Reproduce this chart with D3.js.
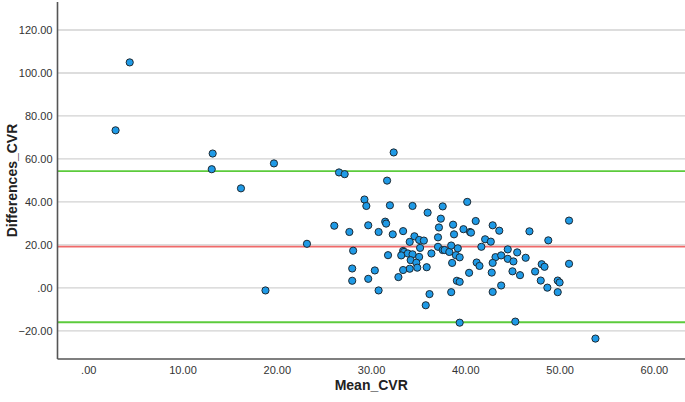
<!DOCTYPE html>
<html>
<head>
<meta charset="utf-8">
<script src="https://cdn.jsdelivr.net/npm/d3@7"></script>
<style>
  body { margin: 0; background: #fff; }
  svg { display: block; font-family: "Liberation Sans", Arial, sans-serif; }
</style>
</head>
<body>
<div id="chart"></div>
<script>
// Bland-Altman data: mean of the two CVR measures and their difference
const meanCVR = [
  2.9, 4.4, 13.2, 13.1, 16.2, 19.7, 26.6, 27.2, 32.4, 31.7,
  29.3, 29.5, 32.0, 34.4, 40.2, 37.6, 36.0, 26.1, 27.7, 23.2,
  28.1, 28.0, 28.0, 18.8, 29.7, 31.5, 31.6, 30.8, 32.3, 33.4,
  37.4, 37.2, 38.7, 41.1, 42.9, 43.6, 39.8, 40.5, 40.6, 38.8,
  37.1, 34.6, 34.1, 35.1, 35.6, 35.2, 42.1, 42.7, 33.4, 33.5,
  33.2, 33.9, 34.4, 31.8, 35.1, 34.2, 34.8, 34.1, 34.9, 33.4,
  32.9, 35.9, 36.4, 37.1, 37.6, 37.8, 38.3, 38.5, 39.2, 39.0,
  39.4, 38.6, 41.7, 41.2, 41.5, 40.4, 43.2, 43.8, 44.5, 44.5,
  45.1, 45.5, 42.9, 42.8, 45.0, 45.8, 43.8, 42.9, 39.1, 39.4,
  38.5, 36.2, 35.8, 30.8, 30.4, 29.7, 39.4, 45.3, 51.0, 46.8,
  48.8, 46.4, 47.4, 48.1, 48.4, 48.0, 48.7, 49.8, 50.0, 49.8,
  51.0, 53.8
];
const diffCVR = [
  73.3, 104.9, 62.5, 55.2, 46.3, 57.9, 53.7, 52.9, 63.0, 49.9,
  41.1, 38.1, 38.4, 38.1, 40.0, 37.9, 35.0, 28.9, 26.0, 20.5,
  17.3, 9.0, 3.3, -1.2, 29.1, 30.8, 29.9, 26.0, 24.9, 26.4,
  32.2, 28.1, 29.4, 31.1, 29.1, 26.6, 27.3, 26.0, 25.7, 24.9,
  23.5, 24.0, 21.4, 22.3, 22.0, 18.6, 22.6, 21.5, 17.2, 16.7,
  15.1, 16.0, 15.6, 15.2, 14.4, 12.9, 11.7, 8.9, 9.4, 8.3,
  5.0, 9.6, 16.0, 19.1, 17.6, 17.6, 16.7, 19.7, 18.4, 15.2,
  14.2, 11.6, 19.1, 11.8, 10.2, 7.0, 14.3, 15.1, 17.9, 13.5,
  12.3, 16.5, 11.6, 7.1, 7.7, 5.9, 1.1, -1.9, 3.3, 2.8,
  -2.0, -2.9, -8.1, -1.2, 8.1, 4.2, -16.2, -15.7, 31.3, 26.3,
  22.1, 14.0, 7.6, 11.0, 9.8, 3.4, 0.1, 3.4, 2.5, -2.0,
  11.2, -23.6
];
const meanDiff = 19.15;
const upperLoA = 54.3;
const lowerLoA = -16.0;
const xTicks = [0, 10, 20, 30, 40, 50, 60];
const yTicks = [-20, 0, 20, 40, 60, 80, 100, 120];

const W = 685, H = 402;
const plot = { left: 57.5, right: 685, top: 2, bottom: 359 };

const svg = d3.select('#chart').append('svg')
  .attr('width', W)
  .attr('height', H);

const x = d3.scaleLinear().domain([-3.26, 63.3]).range([plot.left, plot.right]);
const y = d3.scaleLinear().domain([-33.1, 133]).range([plot.bottom, plot.top]);

const fmt = (v) => d3.format('.2f')(v).replace(/^0\./, '.');

// gridlines
svg.append('g')
  .selectAll('line')
  .data(yTicks)
  .enter()
  .append('line')
  .attr('x1', plot.left).attr('x2', plot.right)
  .attr('y1', (d) => y(d)).attr('y2', (d) => y(d))
  .attr('stroke', '#d2d2d2')
  .attr('stroke-width', 1.4);

// reference lines
const refs = [
  { v: upperLoA, c: '#5ccb3c' },
  { v: lowerLoA, c: '#5ccb3c' },
  { v: meanDiff, c: '#f06a6a' }
];
svg.append('g')
  .selectAll('line')
  .data(refs)
  .enter()
  .append('line')
  .attr('x1', plot.left).attr('x2', plot.right)
  .attr('y1', (d) => y(d.v)).attr('y2', (d) => y(d.v))
  .attr('stroke', (d) => d.c)
  .attr('stroke-width', 1.8);

// axes
const yAxis = svg.append('g')
  .attr('transform', `translate(${plot.left},0)`)
  .call(d3.axisLeft(y).tickValues(yTicks).tickFormat(fmt).tickSize(0).tickPadding(5));
const xAxis = svg.append('g')
  .attr('transform', `translate(0,${plot.bottom})`)
  .call(d3.axisBottom(x).tickValues(xTicks).tickFormat(fmt).tickSize(0).tickPadding(7));

[xAxis, yAxis].forEach((a) => {
  a.select('.domain').attr('stroke', '#555').attr('stroke-width', 1.6);
  a.selectAll('text').attr('font-size', 11).attr('fill', '#333');
});
yAxis.select('.domain').attr('d', `M0,${plot.top}V${plot.bottom}`);
xAxis.select('.domain').attr('d', `M${plot.left},0H${plot.right}`);

// points
svg.append('g')
  .selectAll('circle')
  .data(meanCVR.map((m, i) => [m, diffCVR[i]]))
  .enter()
  .append('circle')
  .attr('cx', (d) => x(d[0]))
  .attr('cy', (d) => y(d[1]))
  .attr('r', 3.6)
  .attr('fill', '#1f9ae6')
  .attr('stroke', '#1e2a33')
  .attr('stroke-width', 1);

// axis titles
svg.append('text')
  .attr('x', (plot.left + plot.right) / 2)
  .attr('y', 390)
  .attr('text-anchor', 'middle')
  .attr('font-size', 14)
  .attr('font-weight', 'bold')
  .attr('fill', '#222')
  .text('Mean_CVR');

svg.append('text')
  .attr('transform', `translate(17,${(plot.top + plot.bottom) / 2}) rotate(-90)`)
  .attr('text-anchor', 'middle')
  .attr('font-size', 14)
  .attr('font-weight', 'bold')
  .attr('fill', '#222')
  .text('Differences_CVR');
</script>
</body>
</html>
